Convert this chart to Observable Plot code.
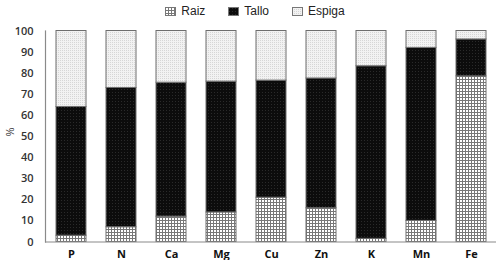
<!DOCTYPE html>
<html>
<head>
<meta charset="utf-8">
<script src="https://cdn.jsdelivr.net/npm/d3@7"></script>
<script src="https://cdn.jsdelivr.net/npm/@observablehq/plot@0.6"></script>
<style>
  body { margin: 0; background: #fff; width: 500px; height: 260px; overflow: hidden; }
  #legend { height: 22px; display: flex; justify-content: center; align-items: center; gap: 23px; padding-left: 10px; font-family: "Liberation Sans", Arial, sans-serif; font-size: 12px; color: #222; }
  .item { display: flex; align-items: center; gap: 5px; }
  .item svg { display: block; }
</style>
</head>
<body>
<svg width="0" height="0" style="position:absolute">
  <defs>
    <pattern id="p-raiz" width="3" height="3" patternUnits="userSpaceOnUse">
      <rect width="3" height="3" fill="#ffffff"/>
      <rect width="3" height="1" fill="#777777"/>
      <rect width="1" height="3" fill="#777777"/>
    </pattern>
    <pattern id="p-tallo" width="3" height="3" patternUnits="userSpaceOnUse">
      <rect width="3" height="3" fill="#0c0c0c"/>
      <rect x="1" y="1" width="1" height="1" fill="#2a2a2a"/>
    </pattern>
    <pattern id="p-espiga" width="2" height="2" patternUnits="userSpaceOnUse">
      <rect width="2" height="2" fill="#f2f2f2"/>
      <rect width="1" height="1" fill="#d6d6d6"/>
    </pattern>
  </defs>
</svg>
<div id="legend"></div>
<div id="chart"></div>
<script>
const elements = ["P", "N", "Ca", "Mg", "Cu", "Zn", "K", "Mn", "Fe"];
const series = ["Raiz", "Tallo", "Espiga"];
const raiz   = [3, 7, 12, 14, 21, 16, 1.5, 10, 78.5];
const tallo  = [61, 66, 63.5, 62, 55.5, 61.5, 81.8, 82, 17.5];
const espiga = [36, 27, 24.5, 24, 23.5, 22.5, 16.7, 8, 4];
const yTicks = [0, 10, 20, 30, 40, 50, 60, 70, 80, 90, 100];
const patterns = ["url(#p-raiz)", "url(#p-tallo)", "url(#p-espiga)"];

const data = [];
elements.forEach((e, i) => {
  data.push({element: e, serie: "Raiz", value: raiz[i]});
  data.push({element: e, serie: "Tallo", value: tallo[i]});
  data.push({element: e, serie: "Espiga", value: espiga[i]});
});

const legend = document.getElementById("legend");
series.forEach((s, i) => {
  const it = document.createElement("div");
  it.className = "item";
  it.innerHTML = `<svg width="11" height="9"><rect x="0.5" y="0.5" width="10" height="8" fill="${patterns[i]}" stroke="#777" stroke-width="1"/></svg><span>${s}</span>`;
  legend.appendChild(it);
});

const chart = Plot.plot({
  width: 500,
  height: 238,
  marginLeft: 45,
  marginRight: 4,
  marginTop: 8.5,
  marginBottom: 18.5,
  style: { fontFamily: "'Open Sans', sans-serif", background: "transparent" },
  x: { domain: elements, paddingInner: 0.4, paddingOuter: 0.2, label: null },
  y: { domain: [0, 100], ticks: yTicks, label: null },
  color: { domain: series, range: patterns },
  marks: [
    Plot.barY(data, Plot.stackY({x: "element", y: "value", fill: "serie", stroke: "#6e6e6e", strokeWidth: 1, order: series})),
    Plot.ruleY([0], {stroke: "#8a8a8a", strokeWidth: 1.2}),
    Plot.frame({anchor: "left", stroke: "#8a8a8a", strokeWidth: 1.2}),
    Plot.axisY({ticks: yTicks, tickSize: 0, tickPadding: 12, fontSize: 11, fontWeight: 600, fill: "#333", label: null}),
    Plot.axisX({tickSize: 0, tickPadding: 8, fontSize: 11, fontWeight: 700, fill: "#111", label: null}),
    Plot.text(["%"], {frameAnchor: "left", dx: -35, rotate: -90, fontSize: 11, fill: "#333"})
  ]
});
document.getElementById("chart").appendChild(chart);
</script>
</body>
</html>
